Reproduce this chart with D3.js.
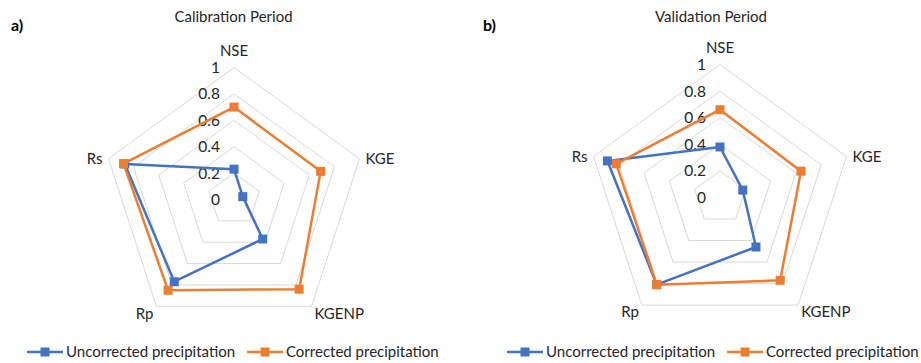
<!DOCTYPE html>
<html>
  <head>
    <meta charset="utf-8">
    <title>Calibration and Validation radar charts</title>
    <script src="https://cdn.jsdelivr.net/npm/d3@7"></script>
    <style>
      body { margin: 0; background: white; }
      text { font-family: 'Lato', 'Open Sans', sans-serif; fill: #262626; }
      .grid { fill: none; stroke: #d9d9d9; stroke-width: 1px; }
      .tick_label { font-size: 15.5px; text-anchor: end; }
      .axis_label { font-size: 15px; }
      .title { font-size: 15px; text-anchor: middle; }
      .panel { font-size: 16px; font-weight: bold; fill: black; }
      .legend_text { font-size: 15px; }
      .series { fill: none; stroke-width: 2.5px; stroke-linejoin: round; }
    </style>
  </head>
  <body>
    <script>

      // data
      var axes = ['NSE', 'KGE', 'KGENP', 'Rp', 'Rs'];
      var ticks = [0, 0.2, 0.4, 0.6, 0.8, 1];
      var seriesNames = ['Uncorrected precipitation', 'Corrected precipitation'];
      var seriesColors = ['#4472c4', '#ed7d31'];

      var calUncorrected = [0.23, 0.07, 0.37, 0.77, 0.87];
      var calCorrected   = [0.70, 0.69, 0.84, 0.85, 0.88];
      var valUncorrected = [0.38, 0.18, 0.46, 0.81, 0.89];
      var valCorrected   = [0.66, 0.64, 0.77, 0.81, 0.82];

      var outerWidth = 921;
      var outerHeight = 363;

      var svg = d3.select('body').append('svg')
        .attr('width', outerWidth)
        .attr('height', outerHeight);

      var angle = d3.scaleLinear()
        .domain([0, axes.length])
        .range([0, 2 * Math.PI]);

      function drawRadar(cx, cy, radius, title, titleX, panel, panelX, series) {
        var g = svg.append('g')
          .attr('transform', 'translate(' + cx + ',' + cy + ')');

        var r = d3.scaleLinear().domain([0, 1]).range([0, radius]);

        var ring = d3.lineRadial()
          .angle(function(d, i) { return angle(i); })
          .radius(function(d) { return r(d); })
          .curve(d3.curveLinearClosed);

        // grid rings (skip 0)
        g.selectAll('.grid')
          .data(ticks.slice(1))
          .enter()
          .append('path')
          .attr('class', 'grid')
          .attr('d', function(t) { return ring(axes.map(function() { return t; })); });

        // tick labels along the NSE axis
        g.selectAll('.tick_label')
          .data(ticks)
          .enter()
          .append('text')
          .attr('class', 'tick_label')
          .attr('x', -14)
          .attr('y', function(t) { return -r(t); })
          .attr('dy', '0.35em')
          .text(function(t) { return t; });

        // series
        series.forEach(function(vals, s) {
          g.append('path')
            .attr('class', 'series')
            .attr('d', ring(vals))
            .style('stroke', seriesColors[s]);

          g.selectAll('.marker' + s)
            .data(vals)
            .enter()
            .append('rect')
            .attr('class', 'marker' + s)
            .attr('x', function(d, i) { return r(d) * Math.sin(angle(i)) - 4.5; })
            .attr('y', function(d, i) { return -r(d) * Math.cos(angle(i)) - 4.5; })
            .attr('width', 9)
            .attr('height', 9)
            .style('fill', seriesColors[s]);
        });

        // category labels
        var anchors = ['middle', 'start', 'start', 'end', 'end'];
        var offs = [[0, -17], [6, 0], [3, 7], [-3, 7], [-6, 0]];
        g.selectAll('.axis_label')
          .data(axes)
          .enter()
          .append('text')
          .attr('class', 'axis_label')
          .attr('x', function(d, i) { return r(1) * Math.sin(angle(i)) + offs[i][0]; })
          .attr('y', function(d, i) { return -r(1) * Math.cos(angle(i)) + offs[i][1]; })
          .attr('dy', '0.35em')
          .style('text-anchor', function(d, i) { return anchors[i]; })
          .text(function(d) { return d; });

        svg.append('text')
          .attr('class', 'title')
          .attr('x', titleX)
          .attr('y', 17)
          .attr('dy', '0.35em')
          .text(title);

        svg.append('text')
          .attr('class', 'panel')
          .attr('x', panelX)
          .attr('y', 25)
          .attr('dy', '0.35em')
          .text(panel);
      }

      function drawLegend(x0, x1) {
        var xs = [x0, x1];
        var y = 352;
        seriesNames.forEach(function(name, s) {
          var lg = svg.append('g').attr('transform', 'translate(' + xs[s] + ',' + y + ')');
          lg.append('line')
            .attr('x1', 0).attr('x2', 36)
            .attr('y1', 0).attr('y2', 0)
            .style('stroke', seriesColors[s])
            .style('stroke-width', 2.5);
          lg.append('rect')
            .attr('x', 13.5).attr('y', -4.5)
            .attr('width', 9).attr('height', 9)
            .style('fill', seriesColors[s]);
          lg.append('text')
            .attr('class', 'legend_text')
            .attr('x', 39)
            .attr('dy', '0.35em')
            .text(name);
        });
      }

      drawRadar(234, 199.5, 132, 'Calibration Period', 233.5, 'a)', 11, [calUncorrected, calCorrected]);
      drawRadar(720, 197.5, 133, 'Validation Period', 711, 'b)', 483, [valUncorrected, valCorrected]);

      drawLegend(27, 247);
      drawLegend(507, 727);

    </script>
  </body>
</html>
